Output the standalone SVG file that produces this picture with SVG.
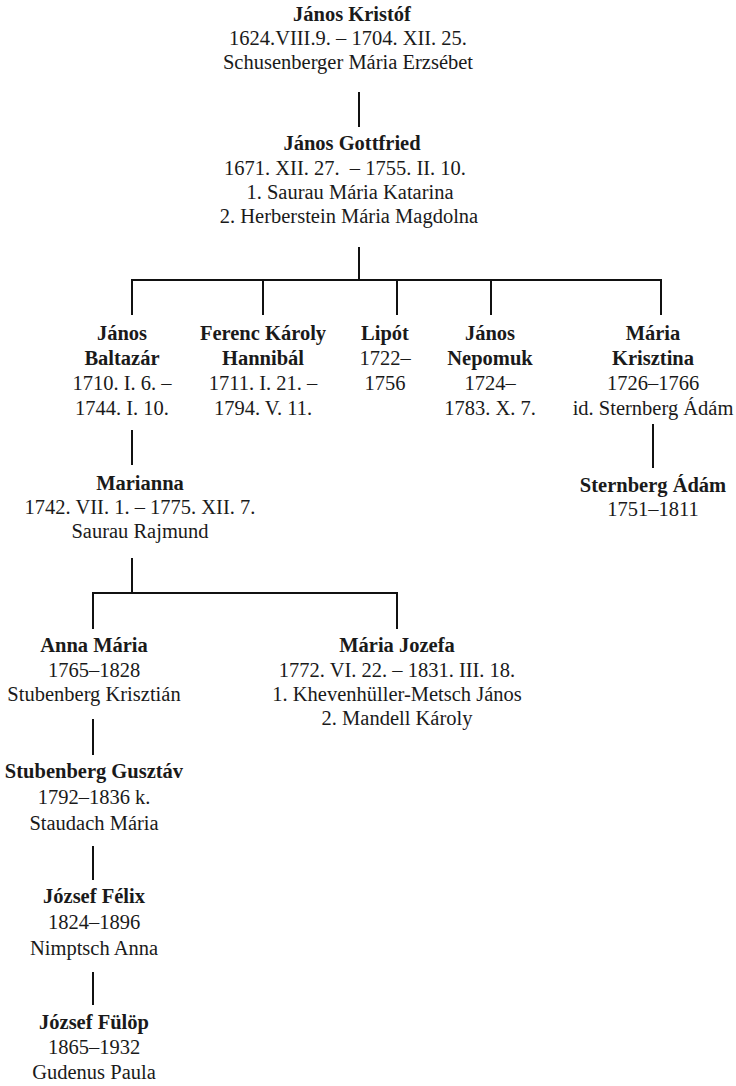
<svg xmlns="http://www.w3.org/2000/svg" width="736" height="1086" viewBox="0 0 736 1086">
<style>
text{font-family:"Liberation Serif","Times New Roman",serif;font-size:20.5px;fill:#1a1a1a;text-anchor:middle}
.n{font-weight:bold}
.c{fill:none;stroke:#111;stroke-width:2}
</style>
<rect width="736" height="1086" fill="#fff"/>
<g id="connectors">
<path class="c" d="M359 92V127"/>
<path class="c" d="M359 247V280M132 315V280H661V315M263 280V315M397 280V315M491 280V315"/>
<path class="c" d="M132 430V465"/>
<path class="c" d="M132 558V593M93 629V593H397V629"/>
<path class="c" d="M653 424V468"/>
<path class="c" d="M93 719V755"/>
<path class="c" d="M93 846V880"/>
<path class="c" d="M93 972V1005"/>
</g>
<g id="janos-kristof">
<text x="352" y="21" class="n">János Kristóf</text>
<text x="348" y="45">1624.VIII.9. – 1704. XII. 25.</text>
<text x="348" y="69">Schusenberger Mária Erzsébet</text>
</g>
<g id="janos-gottfried">
<text x="352" y="150" class="n">János Gottfried</text>
<text x="345" y="175" xml:space="preserve">1671. XII. 27.  – 1755. II. 10.</text>
<text x="350" y="199">1. Saurau Mária Katarina</text>
<text x="349" y="223">2. Herberstein Mária Magdolna</text>
</g>
<g id="janos-baltazar">
<text x="122" y="340" class="n">János</text>
<text x="122" y="365" class="n">Baltazár</text>
<text x="122" y="390">1710. I. 6. –</text>
<text x="122" y="415">1744. I. 10.</text>
</g>
<g id="ferenc-karoly">
<text x="263" y="340" class="n">Ferenc Károly</text>
<text x="263" y="365" class="n">Hannibál</text>
<text x="263" y="390">1711. I. 21. –</text>
<text x="263" y="415">1794. V. 11.</text>
</g>
<g id="lipot">
<text x="385" y="340" class="n">Lipót</text>
<text x="385" y="365">1722–</text>
<text x="385" y="390">1756</text>
</g>
<g id="janos-nepomuk">
<text x="490" y="340" class="n">János</text>
<text x="490" y="365" class="n">Nepomuk</text>
<text x="490" y="390">1724–</text>
<text x="490" y="415">1783. X. 7.</text>
</g>
<g id="maria-krisztina">
<text x="653" y="340" class="n">Mária</text>
<text x="653" y="365" class="n">Krisztina</text>
<text x="653" y="390">1726–1766</text>
<text x="653" y="415">id. Sternberg Ádám</text>
</g>
<g id="sternberg-adam">
<text x="653" y="492" class="n">Sternberg Ádám</text>
<text x="653" y="516">1751–1811</text>
</g>
<g id="marianna">
<text x="140" y="490" class="n">Marianna</text>
<text x="140" y="514">1742. VII. 1. – 1775. XII. 7.</text>
<text x="140" y="538">Saurau Rajmund</text>
</g>
<g id="anna-maria">
<text x="94" y="652" class="n">Anna Mária</text>
<text x="94" y="677">1765–1828</text>
<text x="94" y="701">Stubenberg Krisztián</text>
</g>
<g id="maria-jozefa">
<text x="397" y="652" class="n">Mária Jozefa</text>
<text x="397" y="677">1772. VI. 22. – 1831. III. 18.</text>
<text x="397" y="701">1. Khevenhüller-Metsch János</text>
<text x="397" y="725">2. Mandell Károly</text>
</g>
<g id="stubenberg-gusztav">
<text x="94" y="778" class="n">Stubenberg Gusztáv</text>
<text x="94" y="804">1792–1836 k.</text>
<text x="94" y="830">Staudach Mária</text>
</g>
<g id="jozsef-felix">
<text x="94" y="903" class="n">József Félix</text>
<text x="94" y="929">1824–1896</text>
<text x="94" y="955">Nimptsch Anna</text>
</g>
<g id="jozsef-fulop">
<text x="94" y="1029" class="n">József Fülöp</text>
<text x="94" y="1054">1865–1932</text>
<text x="94" y="1079">Gudenus Paula</text>
</g>
</svg>
